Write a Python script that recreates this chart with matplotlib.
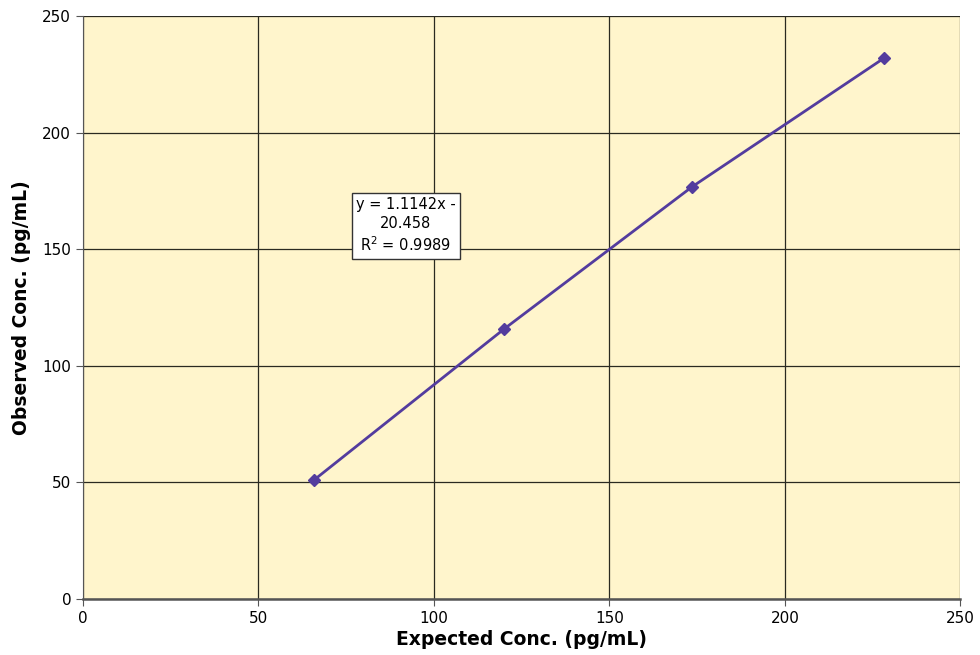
import numpy as np
import matplotlib
matplotlib.use("Agg")
import matplotlib.pyplot as plt

plt.rcParams['font.family'] = ['DejaVu Sans']

# data
expected = [65.8, 120.0, 173.5, 228.3]
observed = [51.0, 115.8, 176.7, 232.0]
slope = 1.1142
intercept = -20.458
r2 = 0.9989

fig = plt.figure(figsize=(9.8, 6.55), dpi=100)
ax = fig.add_axes([0.0847, 0.0855, 0.8953, 0.8901])
ax.set_facecolor('#FFF5CC')

purple = '#533C9E'
# series drawn as markers joined by lines
ax.plot(expected, observed, '-D', color=purple, lw=2, ms=6, zorder=4)

ax.set_xlim(0, 250)
ax.set_ylim(0, 250)
ax.set_xticks(np.arange(0, 251, 50))
ax.set_yticks(np.arange(0, 251, 50))
ax.grid(True, color='#2a2a20', lw=0.9)
ax.set_axisbelow(True)
for s in ['top', 'right']:
    ax.spines[s].set_visible(False)
ax.spines['left'].set_color('#555555')
ax.spines['bottom'].set_color('#555555')
ax.spines['bottom'].set_linewidth(1.8)
ax.tick_params(direction='out', length=5, labelsize=11, color='#555555')

ax.set_xlabel('Expected Conc. (pg/mL)', fontsize=13.5, fontweight='bold', labelpad=3)
ax.set_ylabel('Observed Conc. (pg/mL)', fontsize=13.5, fontweight='bold', labelpad=8)

ax.text(92, 160, f'y = {slope}x -\n{abs(intercept)}\nR$^2$ = {r2}', fontsize=10.5,
        ha='center', va='center', linespacing=1.3,
        bbox=dict(boxstyle='square,pad=0.3', fc='white', ec='#333333', lw=1))

fig.savefig('out.png', dpi=100)
